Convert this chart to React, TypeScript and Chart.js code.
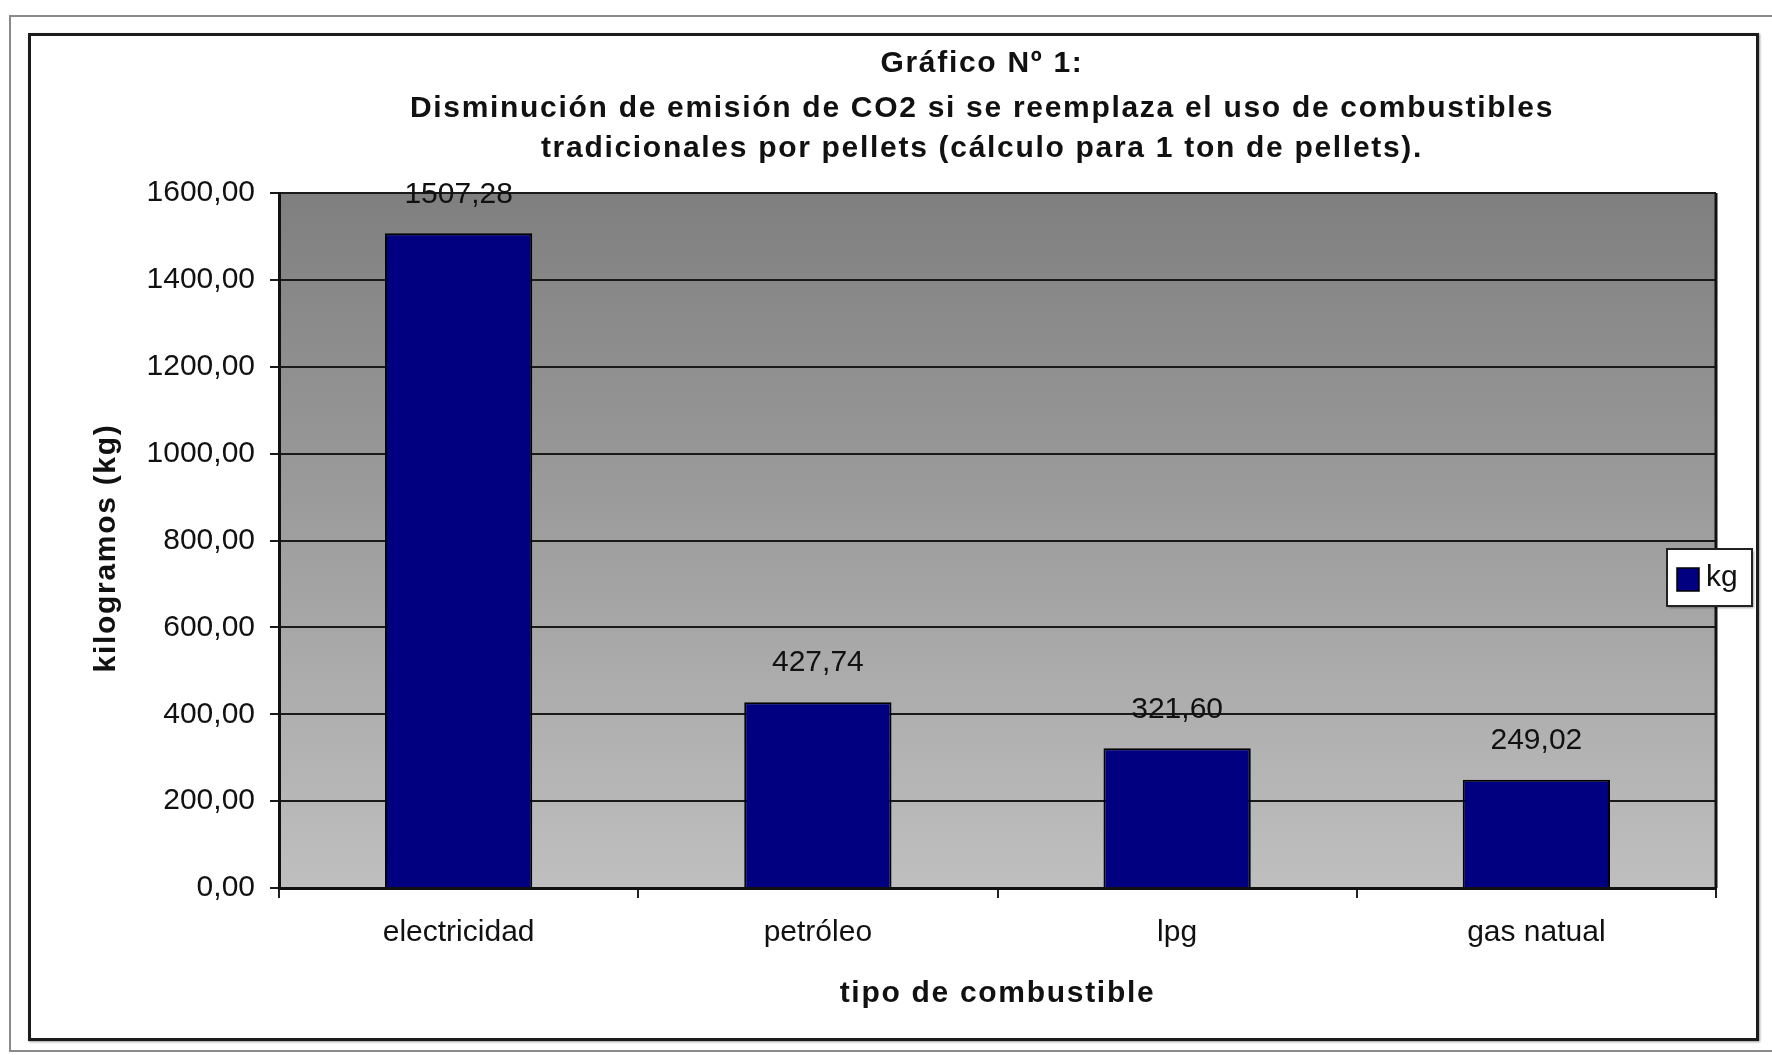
import React, { useEffect, useRef } from "react";
import { Chart, registerables } from "chart.js";

Chart.register(...registerables);

// Data
const categories = ["electricidad", "petróleo", "lpg", "gas natual"];
const seriesLabel = "kg";
const reductionKg = [1507.28, 427.74, 321.6, 249.02];

// Axis / titles
const yMin = 0;
const yMax = 1600;
const yStep = 200;
const titleLines = [
  "Gráfico Nº 1:",
  "Disminución de emisión de CO2 si se reemplaza el uso de combustibles",
  "tradicionales por pellets (cálculo para 1 ton de pellets).",
];
const xAxisTitle = "tipo de combustible";
const yAxisTitle = "kilogramos (kg)";

const FONT = "'Liberation Sans', Arial, Helvetica, sans-serif";
const BAR_COLOR = "#000080";

const fmt = (v: number) => v.toFixed(2).replace(".", ",");

// Plot-area gradient, outer frame of the plot, value labels, titles and legend box
const decorations = {
  id: "decorations",
  beforeDatasetsDraw(chart: any) {
    const { ctx, chartArea } = chart;
    const { left, top, right, bottom } = chartArea;
    // background gradient is painted beforeDraw; here only the right frame edge
    ctx.save();
    ctx.strokeStyle = "#111";
    ctx.lineWidth = 3;
    ctx.beginPath();
    ctx.moveTo(right, top);
    ctx.lineTo(right, bottom);
    ctx.stroke();
    ctx.restore();
  },
  beforeDraw(chart: any) {
    const { ctx, chartArea } = chart;
    const { left, top, right, bottom } = chartArea;
    ctx.save();
    const g = ctx.createLinearGradient(0, top, 0, bottom);
    g.addColorStop(0, "#7f7f7f");
    g.addColorStop(1, "#bfbfbf");
    ctx.fillStyle = g;
    ctx.fillRect(left, top, right - left, bottom - top);
    ctx.restore();
  },
  afterDatasetsDraw(chart: any) {
    const { ctx } = chart;
    const meta = chart.getDatasetMeta(0);
    const data = chart.data.datasets[0].data as number[];
    ctx.save();
    ctx.font = `30px ${FONT}`;
    ctx.fillStyle = "#111";
    ctx.textAlign = "center";
    ctx.textBaseline = "middle";
    meta.data.forEach((bar: any, i: number) => {
      ctx.fillText(fmt(data[i]), bar.x, bar.y - 39);
    });
    ctx.restore();
  },
  afterDraw(chart: any) {
    const { ctx, chartArea } = chart;
    ctx.save();
    ctx.fillStyle = "#111";
    ctx.textAlign = "center";
    ctx.textBaseline = "middle";
    ctx.font = `bold 30px ${FONT}`;
    (ctx as any).letterSpacing = "1.7px";

    // chart heading
    const headY = [64, 109, 149];
    titleLines.forEach((line, i) => ctx.fillText(line, 982, headY[i]));

    // axis titles
    ctx.fillText(xAxisTitle, (chartArea.left + chartArea.right) / 2, 994);
    ctx.save();
    ctx.translate(107, 548);
    ctx.rotate(-Math.PI / 2);
    ctx.fillText(yAxisTitle, 0, 0);
    ctx.restore();
    (ctx as any).letterSpacing = "0px";

    // legend box
    const ds = chart.data.datasets[0];
    ctx.shadowColor = "rgba(0,0,0,0.35)";
    ctx.shadowOffsetX = 2;
    ctx.shadowOffsetY = 2;
    ctx.shadowBlur = 2;
    ctx.fillStyle = "#fff";
    ctx.fillRect(1667, 549, 85, 57);
    ctx.shadowColor = "transparent";
    ctx.strokeStyle = "#222";
    ctx.lineWidth = 2;
    ctx.strokeRect(1667, 549, 85, 57);
    ctx.fillStyle = ds.backgroundColor;
    ctx.fillRect(1677, 568, 22, 23);
    ctx.strokeStyle = "#000";
    ctx.lineWidth = 1.5;
    ctx.strokeRect(1677, 568, 22, 23);
    ctx.fillStyle = "#111";
    ctx.font = `30px ${FONT}`;
    ctx.textAlign = "left";
    ctx.fillText(ds.label, 1706, 578);
    ctx.restore();
  },
};

export default function App() {
  const canvasRef = useRef<HTMLCanvasElement | null>(null);

  useEffect(() => {
    if (!canvasRef.current) return;
    const chart = new Chart(canvasRef.current, {
      type: "bar",
      data: {
        labels: categories,
        datasets: [
          {
            label: seriesLabel,
            data: reductionKg,
            backgroundColor: BAR_COLOR,
            borderColor: "#000",
            borderWidth: 2,
            barPercentage: 0.41,
            categoryPercentage: 1,
          },
        ],
      },
      options: {
        animation: false,
        responsive: false,
        devicePixelRatio: 1,
        layout: { padding: { left: 100, top: 193, right: 56, bottom: 60 } },
        plugins: {
          legend: { display: false },
          title: { display: false },
          tooltip: { enabled: false },
        },
        scales: {
          x: {
            offset: true,
            grid: {
              offset: true,
              drawOnChartArea: false,
              drawTicks: true,
              tickLength: 10,
              color: "#222",
              lineWidth: 2,
            },
            border: { color: "#111", width: 3 },
            ticks: {
              color: "#111",
              padding: 17,
              font: { family: FONT, size: 30 },
              maxRotation: 0,
            },
            afterFit(scale: any) {
              scale.height = 107;
            },
          },
          y: {
            min: yMin,
            max: yMax,
            grid: {
              color: "#1a1a1a",
              lineWidth: 2,
              tickLength: 9,
            },
            border: { color: "#111", width: 3 },
            ticks: {
              stepSize: yStep,
              color: "#111",
              padding: 15,
              font: { family: FONT, size: 30 },
              callback: (v: any) => fmt(Number(v)),
            },
            afterFit(scale: any) {
              scale.width = 179;
            },
          },
        },
      },
      plugins: [decorations],
    });
    return () => chart.destroy();
  }, []);

  return (
    <div
      style={{
        position: "fixed",
        left: 0,
        top: 0,
        width: 1772,
        height: 1055,
        overflow: "hidden",
        background: "#fff",
      }}
    >
      <div
        style={{
          position: "absolute",
          left: 9,
          top: 15,
          width: 1800,
          height: 1037,
          boxSizing: "border-box",
          border: "2px solid #8a8a8a",
        }}
      />
      <div
        style={{
          position: "absolute",
          left: 28,
          top: 33,
          width: 1731,
          height: 1008,
          boxSizing: "border-box",
          border: "3px solid #1c1c1c",
          boxShadow: "1px 1px 2px rgba(0,0,0,0.4)",
        }}
      />
      <canvas
        ref={canvasRef}
        width={1772}
        height={1055}
        style={{ position: "absolute", left: 0, top: 0, width: 1772, height: 1055 }}
      />
    </div>
  );
}
